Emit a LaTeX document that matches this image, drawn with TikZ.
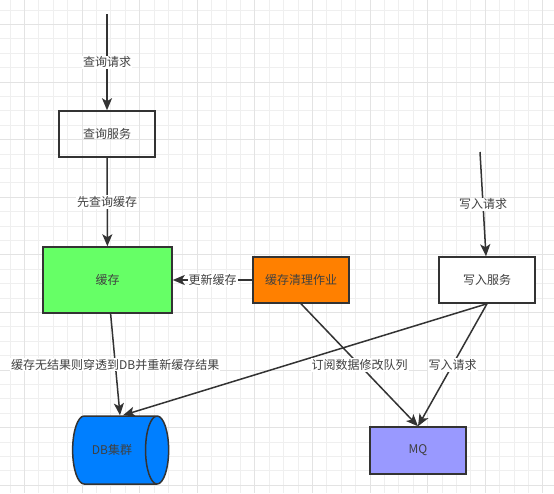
\documentclass[tikz,border=0pt]{standalone}
\usepackage{fontspec}
\setmainfont{Noto Sans CJK SC}
\usetikzlibrary{arrows.meta, positioning, shapes.geometric}
\definecolor{gridline}{HTML}{EFEFEF}
\definecolor{gridmajor}{HTML}{E3E3E3}
\definecolor{boxline}{HTML}{333333}
\definecolor{labeltext}{HTML}{404040}
\definecolor{cachegreen}{HTML}{66FF66}
\definecolor{cleanorange}{HTML}{FF8000}
\definecolor{dbblue}{HTML}{007FFF}
\definecolor{mqpurple}{HTML}{9999FF}

\begin{document}
\begin{tikzpicture}[x=1pt,y=-1pt,font=\fontsize{12}{14}\selectfont,
  >={Stealth[length=12pt,width=10pt,inset=3pt]}]
  \tikzstyle{box}=[draw=boxline,line width=1.5pt,minimum width=96pt,minimum height=46pt,text=labeltext]
  \tikzstyle{tag}=[fill=white,inner sep=1pt,text=labeltext]
  \tikzstyle{link}=[->,draw=boxline,line width=1.5pt]

  \useasboundingbox (0,0) rectangle (554,493);
  \fill[white] (0,0) rectangle (554,493);
  % background grid
  \foreach \k in {0,...,37}
    \draw[gridline,line width=0.8pt] (10+14.4*\k,0) -- (10+14.4*\k,493);
  \foreach \k in {0,...,33}
    \draw[gridline,line width=0.8pt] (0,10+14.4*\k) -- (554,10+14.4*\k);
  \foreach \k in {0,...,9}
    \draw[gridmajor,line width=0.8pt] (24.4+57.6*\k,0) -- (24.4+57.6*\k,493);
  \foreach \k in {0,...,8}
    \draw[gridmajor,line width=0.8pt] (0,24.4+57.6*\k) -- (554,24.4+57.6*\k);

  \coordinate (qreq) at (107,14);
  \coordinate (wreq) at (480,152);

  \node[box]                              (qsvc)  at (107,134)   {查询服务};
  \node[box,fill=cachegreen,minimum width=129pt,minimum height=66pt]
                                          (cache) at (107.5,280) {缓存};
  \node[box,fill=cleanorange]             (clean) at (301,280)   {缓存清理作业};
  \node[box,fill=white]                   (wsvc)  at (487,280)   {写入服务};
  \node[box,fill=mqpurple,minimum height=47pt] (mq) at (418,450.5) {MQ};
  \node[cylinder,shape border rotate=0,aspect=1.3,draw=boxline,line width=1.5pt,
        fill=dbblue,text=labeltext,minimum width=68pt,minimum height=96pt]
                                          (db)    at (112,450)   {DB集群};

  \draw[link] (qreq) -- node[tag] {查询请求} (qsvc);
  \draw[link] (qsvc) -- node[tag] {先查询缓存} (cache);
  \draw[link] (wreq) -- node[tag] {写入请求} ([xshift=-1pt]wsvc.north);
  \draw[link] (clean) -- node[tag] {更新缓存} (cache);
  \draw[link] (cache) -- node[tag] {缓存无结果则穿透到DB并重新缓存结果} ([xshift=8pt]db.north);
  \draw[link] (wsvc.south) -- ([xshift=11pt]db.north);
  \draw[link] (clean.south) -- node[tag] {订阅数据修改队列} (mq.north);
  \draw[link] (wsvc.south) -- node[tag] {写入请求} (mq.north);
\end{tikzpicture}
\end{document}
